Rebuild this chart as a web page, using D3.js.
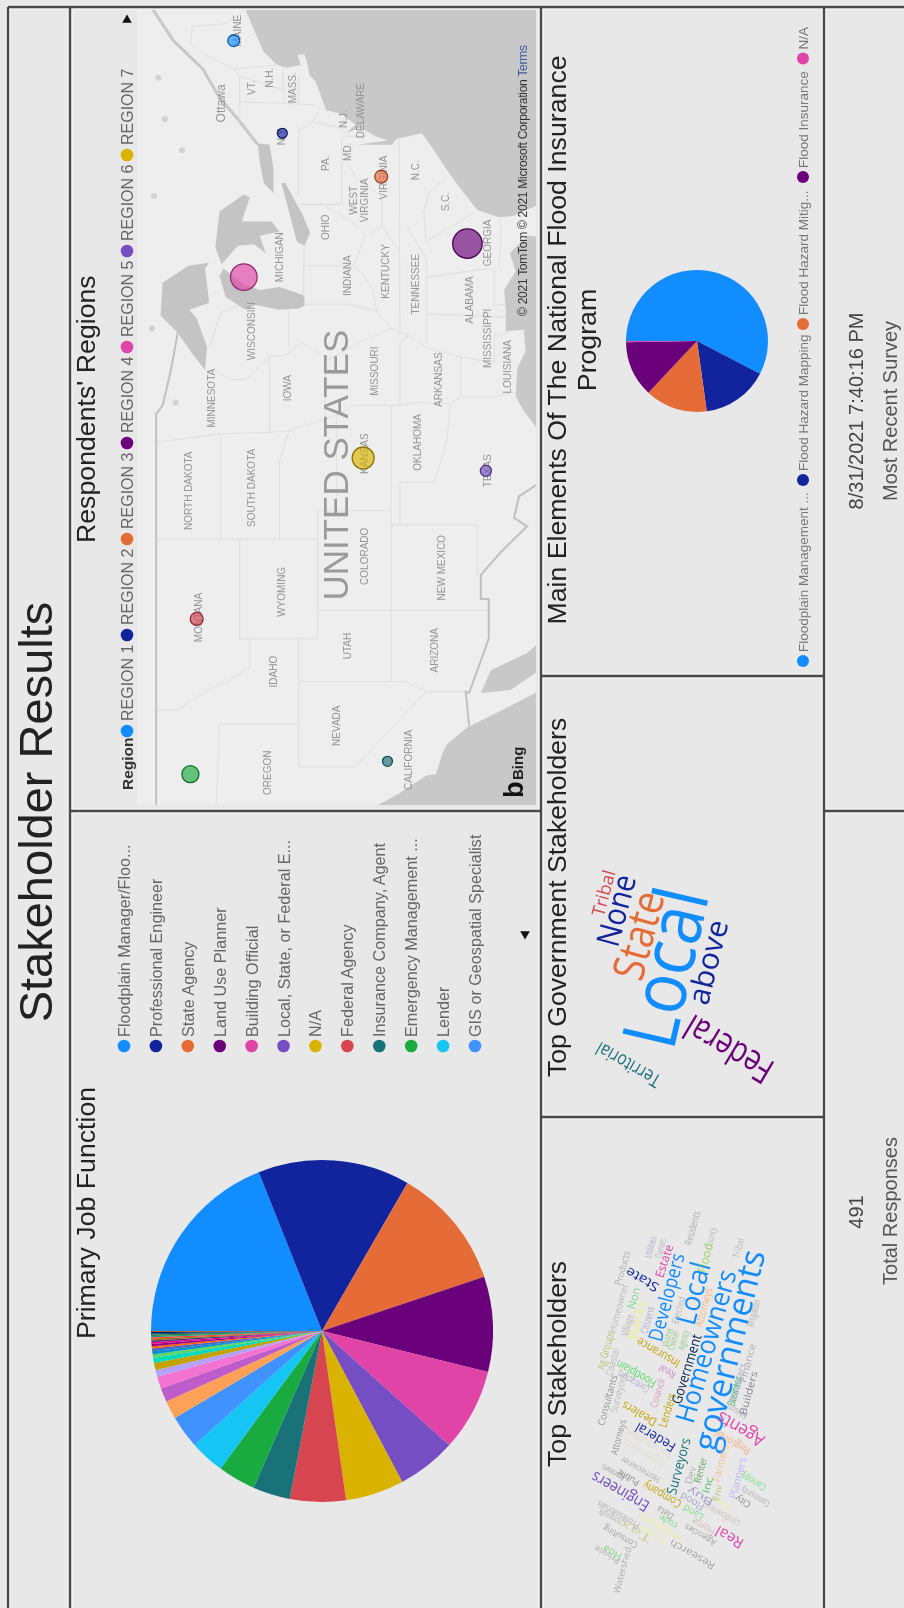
<!DOCTYPE html>
<html>
<head>
<meta charset="utf-8">
<script src="https://cdn.jsdelivr.net/npm/d3@7"></script>
<style>
  html, body { margin: 0; padding: 0; background: #e8e8e8; }
  svg { display: block; filter: blur(0.45px); }
  text { font-family: "Liberation Sans", Arial, sans-serif; }
  .cloud text { font-family: "Open Sans", sans-serif; }
</style>
</head>
<body>
<div id="chart"></div>
<script>
// The whole report is turned on its side, north of the map points left

// Primary job function
const jobNames = ["Floodplain Manager/Floo...", "Professional Engineer", "State Agency", "Land Use Planner",
    "Building Official", "Local, State, or Federal E...", "N/A", "Federal Agency",
    "Insurance Company, Agent", "Emergency Management ...", "Lender", "GIS or Geospatial Specialist"];
const jobShares = [18.97, 14.36, 11.53, 9.0, 7.8, 5.56, 5.53, 5.28, 3.53, 3.56, 3.28, 3.11,
    1.72, 1.31, 1.14, 0.64, 0.69, 0.47, 0.33,
    0.3, 0.25, 0.22, 0.2, 0.18, 0.16, 0.15, 0.14, 0.13, 0.13, 0.12, 0.11, 0.1];

// Main elements of the NFIP
const nfipNames = ["Floodplain Management ...", "Flood Hazard Mapping", "Flood Hazard Mitig...", "Flood Insurance", "N/A"];
const nfipShares = [57.6, 15.2, 14.2, 12.7, 0.3];

// Respondents' regions
const regionNames = ["REGION 1", "REGION 2", "REGION 3", "REGION 4", "REGION 5", "REGION 6", "REGION 7"];
const bubbleLon = [-69, -75.5, -78.55, -83.25, -85.6, -99.2, -98.3, -109.6, -119.6, -120.5];
const bubbleLat = [45.3, 42.85, 37.55, 32.6, 44.8, 31.5, 38.55, 47.1, 37.2, 47.4];
const bubbleCount = [23, 16, 27, 140, 115, 20, 78, 27, 16, 47];
const bubbleColor = [0, 1, 2, 3, 4, 5, 6, 7, 8, 9];

// Word clouds
const govWords = ["Local", "State", "None", "Tribal", "above", "Federal", "Territorial"];
const govWeights = [150, 88, 64, 36, 60, 72, 38];
const govColors = ["#118DFF", "#E66C37", "#12239E", "#D64550", "#12239E", "#6B007B", "#197278"];

const stakeWords = ["governments", "Homeowners", "Local", "Developers", "Estate", "State", "Agents", "Federal", "Engineers", "Real",
    "Surveyors", "Insurance", "Company", "Dealers", "Government", "Lenders", "Floodplain", "Business",
    "Residents", "County", "Tribal", "Utilities", "Owners", "Products", "Homeowner", "Village", "Non", "Banks", "Citizens",
    "Ag Groups", "Coastal", "Consultants", "Surveyors", "Contractors", "Council", "Real", "Elected", "Attorneys",
    "Water", "Owner", "Agency", "Mitigation", "Finance", "Producers", "Builders", "Advisors", "Flood",
    "Regional", "Farmers", "Planners", "Canopy", "Community", "City", "Town", "Landowners", "Home", "Buy", "Flood",
    "Renter", "Dev", "Inc", "Env", "Land", "Agencies", "Research", "Data", "code", "Insurers", "Private", "Tax",
    "Professionals", "nonprofit", "Consulting", "Hoa", "Private", "Watershed", "Appraisers", "Public", "Homeowner", "Attorneys",
    "Municipalities", "Organizations"];
const stakeWeights = [68, 54, 56, 40, 24, 26, 36, 28, 32, 30,
    28, 24, 24, 24, 28, 24, 24, 22,
    20, 20, 20, 20, 20, 20, 20, 20, 22, 24, 20,
    22, 20, 20, 20, 20, 20, 20, 20, 22,
    20, 20, 20, 20, 20, 20, 20, 18, 24,
    22, 22, 22, 20, 18, 18, 18, 20, 20, 20, 20,
    20, 20, 20, 18, 20, 18, 20, 18, 18, 22, 18, 22,
    18, 18, 18, 20, 18, 18, 18, 18, 18, 20,
    22, 22];

// Power BI theme, in slice order
const themeColors = ["#118DFF", "#12239E", "#E66C37", "#6B007B", "#E044A7", "#744EC2", "#D9B300", "#D64550",
    "#197278", "#1AAB40", "#15C6F4", "#4092FF", "#FFA058", "#BE5DC9", "#F472D0", "#B5A1FF",
    "#C4A200", "#00DBBC", "#5BD667", "#0091D5", "#4668C5", "#FF6300", "#99008A", "#EC008C",
    "#533285", "#99700A", "#FF4141", "#1F9A85", "#25891C", "#0057A2", "#002050", "#C94F0F"];

// Water and borders as lon/lat
const atlanticGulf = [[-55, 44.7], [-66.9, 44.7], [-68.2, 44.3], [-69.8, 43.8], [-70.7, 43.1], [-70.9, 42.6], [-70.7, 41.9],
    [-70, 42.05], [-69.95, 41.7], [-70.6, 41.55], [-71.4, 41.45], [-71.9, 41.1], [-73.9, 40.55], [-74.1, 39.8], [-74.9, 38.95],
    [-75.5, 39.5], [-75.1, 38.7], [-75.7, 37.9], [-76, 37.2], [-76.3, 38.9], [-76.3, 36.95], [-75.9, 36.7], [-75.5, 35.25],
    [-76.6, 34.6], [-77.9, 33.9], [-79.1, 33.2], [-80.9, 32], [-81.4, 30.7], [-81.3, 29.8], [-80.6, 28.5], [-80, 26.8],
    [-80.2, 25.5], [-81, 25.1], [-81.8, 26.1], [-82.8, 27.9], [-82.7, 29], [-83.9, 30.05], [-85.2, 29.7], [-86.5, 30.4],
    [-88, 30.3], [-89.4, 30.3], [-89.3, 29.2], [-90.8, 29.1], [-92, 29.6], [-94, 29.7], [-95, 29.2], [-97.1, 27.8],
    [-97.4, 26], [-97.8, 22], [-100, 20], [-55, 20]];
const pacific = [[-130, 38], [-122.8, 38], [-122.5, 37.5], [-121.9, 36.6], [-120.6, 35], [-120.5, 34.45], [-119, 34.05],
    [-118.4, 33.8], [-117.2, 32.6], [-116, 30.5], [-114.5, 28], [-112, 26], [-130, 26]];
const gulfOfCalifornia = [[-114.8, 31.8], [-114.6, 30], [-113, 28], [-111, 26], [-110, 27], [-112, 29], [-113.2, 31.2]];
const lakes = [
    [[-92.1, 46.7], [-90.5, 46.6], [-88.5, 47.1], [-87.9, 47.45], [-87.4, 46.5], [-85, 46.7], [-84.6, 46.5], [-84.8, 47.5], [-86, 48.7], [-88.3, 48.8], [-89.5, 48], [-91, 47.3]],
    [[-87.6, 41.7], [-86.9, 41.7], [-86.3, 43], [-86.5, 44], [-86.1, 44.8], [-85, 45.8], [-85.5, 46], [-87, 45.7], [-87.9, 44.7], [-87.5, 44.4], [-87.9, 43], [-87.8, 42]],
    [[-84.7, 45.9], [-83.4, 45.1], [-83.3, 44.3], [-83.9, 43.7], [-82.7, 44], [-82.4, 43], [-81.7, 43.4], [-81.7, 44.9], [-80, 44.5], [-79.8, 44.8], [-81, 46], [-83.5, 46.2]],
    [[-83.4, 41.7], [-82.5, 41.4], [-81.2, 41.8], [-79, 42.7], [-79, 42.9], [-80.5, 42.6], [-83.1, 42.1]],
    [[-79.7, 43.3], [-78, 43.3], [-76.3, 43.5], [-76.2, 44.1], [-77.5, 44], [-79, 43.8]]
];
const stLawrence = [[-76.3, 44.1], [-74.5, 45.1], [-73, 46], [-71, 46.8], [-69, 48.2], [-66, 49.5]];
const pondLon = [-71.6, -74.5, -76.7, -79.9, -89.2, -94.4];
const pondLat = [48.9, 48.6, 47.8, 49.1, 49.2, 48.1];
const nationalBorders = [
    [[-125, 49], [-95.2, 49], [-94.6, 48.7], [-92, 48.3], [-89.5, 48]],
    [[-117.1, 32.5], [-114.7, 32.7], [-114.8, 32.5], [-111, 31.33], [-108.2, 31.33], [-108.2, 31.8], [-106.5, 31.8], [-104.9, 30.6], [-103.1, 29], [-102.5, 29.8], [-101, 29.5], [-99.5, 27.5], [-97.2, 25.9]]
];
const stateBorders = [
    [[-116, 49], [-116, 48], [-114.6, 46.6], [-114, 45.6], [-113, 44.5], [-111, 44.5]],
    [[-111, 45], [-104, 45]], [[-111, 45], [-111, 41], [-104, 41]], [[-104, 49], [-104, 41]],
    [[-109, 41], [-102, 41], [-102, 37]], [[-114, 42], [-111, 42]], [[-109, 41], [-109, 31.3]], [[-114, 37], [-102, 37]],
    [[-120, 42], [-114, 42], [-114, 36.2], [-114.7, 35], [-120, 39], [-120, 42]], [[-117, 42], [-117, 46], [-124, 46.2]],
    [[-114.7, 35], [-114.7, 32.7]], [[-103, 37], [-103, 32], [-106.6, 32]],
    [[-104, 45.94], [-96.6, 45.94]], [[-97.2, 49], [-96.6, 45.9], [-96.5, 43.5], [-96.4, 42.5]],
    [[-104, 43], [-98.5, 43], [-96.4, 42.5], [-95.3, 40]], [[-102, 40], [-95.3, 40], [-94.6, 39], [-94.6, 36.5], [-94.4, 35.4], [-94.5, 33.6], [-94, 33], [-94, 31], [-93.7, 29.7]],
    [[-102, 37], [-94.6, 37]], [[-103, 36.5], [-100, 36.5], [-100, 34.5], [-97, 33.8], [-94.5, 33.6]],
    [[-96.5, 43.5], [-91.2, 43.5]], [[-95.8, 40.6], [-91.5, 40.6]], [[-94.6, 36.5], [-90.2, 36.5], [-89.7, 36]], [[-94, 33], [-91.2, 33]],
    [[-92.1, 46.7], [-92.3, 46.1], [-92.8, 45.5], [-92.8, 44.7], [-91.2, 43.5], [-91.1, 42.7], [-90.2, 41.8], [-91.4, 40.4], [-90.2, 38.8], [-89.2, 37], [-89.7, 36], [-90.6, 34.9], [-91.2, 33], [-91.6, 31], [-89.7, 31], [-89.5, 30.2]],
    [[-90.6, 42.5], [-87.8, 42.5]], [[-90.4, 46.5], [-88.1, 45.9], [-87.6, 45.1]], [[-87.5, 41.7], [-87.5, 39.3], [-88, 37.8]],
    [[-84.8, 41.7], [-84.8, 39.1]], [[-89.2, 37], [-88, 37.8], [-86.5, 38], [-85.5, 38.5], [-84.8, 39.1], [-82.6, 38.4], [-81.7, 39.2], [-80.6, 40.6]],
    [[-87, 41.75], [-83.4, 41.72]], [[-80.5, 42], [-80.5, 39.72], [-75.8, 39.72]], [[-79.8, 42.2], [-79.8, 42], [-75.3, 42]],
    [[-82.6, 38.2], [-82, 37.5], [-80, 37.5], [-78.5, 39], [-77.8, 39.3]], [[-83.7, 36.6], [-82, 37.5]], [[-89.7, 36.5], [-75.9, 36.55]],
    [[-90.3, 35], [-84.3, 35], [-82, 36.1]], [[-83.1, 35], [-81, 35.15], [-79.7, 34.8], [-78.6, 33.9]], [[-83.1, 35], [-81, 32.1]],
    [[-85.6, 35], [-85.1, 32], [-85, 31]], [[-85, 30.7], [-82.2, 30.6], [-81.5, 30.7]], [[-87.5, 30.3], [-87.6, 31], [-85, 31]], [[-88.2, 35], [-88.4, 30.3]],
    [[-73.3, 45], [-73.4, 42.7], [-73.5, 41.2]], [[-74.7, 45], [-71.5, 45], [-71, 45.3], [-70, 46.7], [-69.2, 47.4], [-68, 47.3], [-67.8, 45.7], [-67, 44.9]],
    [[-71.5, 45], [-72.5, 42.7]], [[-73.3, 42.75], [-70.8, 42.85]], [[-73.5, 42.05], [-71.4, 42]], [[-71, 45.3], [-70.7, 43.1]],
    [[-75.3, 42], [-74.7, 41.3], [-74, 41]], [[-74.7, 41.3], [-75.1, 39.9], [-75.5, 39.5]], [[-75.7, 39.7], [-75.7, 38.4], [-75.1, 38.4]]
];

// Map labels
const placeNames = ["NORTH DAKOTA", "SOUTH DAKOTA", "MINNESOTA", "IOWA", "WISCONSIN", "MICHIGAN", "OHIO", "INDIANA", "KENTUCKY", "TENNESSEE",
    "ALABAMA", "MISSISSIPPI", "LOUISIANA", "ARKANSAS", "MISSOURI", "OKLAHOMA", "KANSAS", "TEXAS", "COLORADO", "NEW MEXICO",
    "ARIZONA", "UTAH", "WYOMING", "MONTANA", "IDAHO", "NEVADA", "OREGON", "CALIFORNIA", "GEORGIA", "S.C.",
    "N.C.", "VIRGINIA", "WEST", "VIRGINIA", "PA.", "MD.", "DELAWARE", "N.J.", "N.Y.", "MASS.", "VT.", "N.H.", "MAINE", "Ottawa"];
const placeLon = [-100.6, -100.4, -94.1, -93.4, -89.4, -84.2, -82.1, -85.5, -85.2, -86.1,
    -87.2, -89.9, -91.9, -92.8, -92.2, -97.2, -98, -99.2, -105.2, -106,
    -111.8, -111.5, -107.7, -109.5, -113.3, -117.1, -120.4, -119.5, -83.2, -80.3,
    -78.1, -78.6, -80.2, -80.2, -77.6, -76.8, -73.9, -74.5, -75.7, -72.3, -72.3, -71.6, -68.3, -73.4];
const placeLat = [47.5, 44.4, 46.4, 42.6, 44.4, 43, 40.6, 39.4, 37.3, 35.6,
    32.5, 31.4, 30.2, 34.3, 37.9, 35.5, 38.5, 31.4, 38.5, 34.1,
    34.5, 39.4, 42.9, 47, 43.3, 40, 43.6, 36, 31.4, 33.9,
    35.6, 37.4, 39.1, 38.5, 40.6, 39.4, 38.7, 39.6, 42.9, 42.3, 44.4, 43.5, 45.1, 45.9];

// Cloud placement, in page pixels: x, y, rotation, drawn length, colour
const govPlace = [[663, 967, -77, 161], [637, 935, -75, 90], [615, 910, -75, 73], [603, 893, -75, 47], [707, 962, -76, 86], [728, 1050, -149, 97], [628, 1065, -150, 71]];
const stakePlace = [[728, 1350, -76, 206, "#118DFF"], [705, 1346, -74, 158, "#118DFF"], [692, 1293, -75, 64, "#118DFF"], [666, 1297, -75, 90, "#118DFF"], [664, 1261, -72, 34, "#E044A7"],
    [642, 1280, -150, 36, "#12239E"], [740, 1430, -150, 52, "#E044A7"], [655, 1438, -150, 44, "#12239E"], [620, 1492, -150, 64, "#744EC2"], [729, 1538, -150, 30, "#E044A7"],
    [678, 1466, -75, 58, "#197278"], [658, 1353, -150, 48, "#C4A200"], [662, 1495, -150, 42, "#C4A200"], [639, 1414, -150, 38, "#C4A200"], [686, 1369, -73, 72, "#002050"],
    [667, 1410, -73, 35, "#C4A200"], [636, 1374, -150, 44, "#5BD667"], [734, 1391, -75, 30, "#1AAB40"],
    [692, 1228, -75, 35, "#999"], [710, 1238, -75, 22, "#aaa"], [738, 1248, -75, 20, "#aaa"], [650, 1247, -75, 22, "#9a94c0"], [660, 1248, -75, 20, "#aaa"], [622, 1268, -75, 35, "#999"],
    [618, 1308, -75, 50, "#aaa"], [627, 1325, -75, 22, "#aaa"], [633, 1298, -75, 22, "#5BD667"], [637, 1320, -75, 40, "#F0EE90"], [647, 1320, -75, 28, "#9a94c0"],
    [605, 1350, -75, 40, "#A3B84E"], [612, 1362, -75, 28, "#aaa"], [607, 1400, -75, 52, "#777"], [618, 1393, -75, 40, "#aaa"], [633, 1382, -150, 35, "#9a94c0"], [657, 1393, -73, 30, "#C878B0"],
    [667, 1372, -150, 18, "#BE5DC9"], [678, 1310, -75, 28, "#aaa"], [703, 1307, -75, 40, "#FFA058"],
    [667, 1337, -75, 20, "#7BC36A"], [673, 1340, -75, 20, "#7BC36A"], [683, 1340, -75, 20, "#7BC36A"], [753, 1313, -75, 28, "#999"], [747, 1363, -75, 40, "#999"], [737, 1383, -75, 40, "#9a94c0"],
    [748, 1393, -75, 45, "#667"], [737, 1412, -150, 22, "#999"], [705, 1258, -75, 30, "#A5D46A"],
    [732, 1443, -150, 40, "#F8A070"], [720, 1463, -75, 38, "#FFB480"], [737, 1478, -75, 42, "#B5A1FF"], [753, 1482, -150, 28, "#5BD667"], [755, 1497, -150, 32, "#999"], [743, 1502, -150, 16, "#666"],
    [722, 1505, -150, 18, "#F0EE90"], [722, 1515, -150, 40, "#C8B0B0"], [703, 1527, -150, 25, "#C8B0B0"], [700, 1497, -150, 28, "#8a7ec0"], [692, 1502, -150, 26, "#9090c0"],
    [700, 1470, -75, 26, "#25891C"], [690, 1475, -75, 18, "#999"], [707, 1485, -75, 16, "#1AAB40"], [717, 1493, -75, 16, "#A3B84E"], [693, 1513, -150, 22, "#5BD667"], [700, 1535, -150, 35, "#888"],
    [692, 1555, -150, 50, "#888"], [665, 1513, -150, 18, "#888"], [668, 1522, -150, 20, "#5BD667"], [660, 1528, -150, 48, "#F0F090"], [653, 1535, -150, 28, "#F0F090"], [635, 1532, -150, 35, "#C8C880"],
    [618, 1515, -150, 48, "#999"], [610, 1517, -150, 25, "#999"], [620, 1537, -150, 38, "#888"], [612, 1553, -150, 20, "#5BD667"], [607, 1555, -150, 28, "#999"], [622, 1570, -75, 48, "#999"],
    [613, 1473, -150, 25, "#888"], [628, 1478, -150, 24, "#666"], [640, 1470, -150, 44, "#999"], [618, 1437, -75, 36, "#777"],
    [648, 1444, -150, 52, "#DDD8CC"], [643, 1454, -150, 48, "#DDD8CC"]];

const width = 904, height = 1608;
const svg = d3.select("#chart").append("svg").attr("width", width).attr("height", height);

svg.append("rect").attr("width", width).attr("height", height).attr("fill", "#e8e8e8");

// --- Helper: text reading bottom to top ---
function sideText(parent, x, y, str, size, color, anchor) {
    return parent.append("text")
        .attr("transform", `translate(${x},${y}) rotate(-90)`)
        .attr("text-anchor", anchor || "start")
        .attr("font-size", size)
        .attr("fill", color)
        .text(str);
}

sideText(svg, 52, 812, "Stakeholder Results", 47, "#222", "middle");
sideText(svg, 95, 1339, "Primary Job Function", 26.7, "#222");
sideText(svg, 95, 543, "Respondents' Regions", 26.7, "#222");
sideText(svg, 566, 1467, "Top Stakeholders", 26.7, "#222");
sideText(svg, 566, 1077, "Top Government Stakeholders", 26.6, "#222");
sideText(svg, 566, 340, "Main Elements Of The National Flood Insurance", 26.7, "#222", "middle");
sideText(svg, 596, 340, "Program", 26.7, "#222", "middle");
sideText(svg, 863, 411, "8/31/2021 7:40:16 PM", 20, "#444", "middle");
sideText(svg, 897, 411, "Most Recent Survey", 20, "#555", "middle");
sideText(svg, 863, 1212, "491", 20, "#444", "middle");
sideText(svg, 897, 1211, "Total Responses", 20, "#555", "middle");

// --- Pies ---
const pie = d3.pie().sort(null).value(d => d);

function drawPie(values, cx, cy, r) {
    const arc = d3.arc().innerRadius(0).outerRadius(r);
    svg.append("g")
        .attr("transform", `translate(${cx},${cy}) rotate(-90)`)
        .selectAll("path")
        .data(pie(values))
        .join("path")
        .attr("d", arc)
        .attr("fill", (d, i) => themeColors[i]);
}
drawPie(jobShares, 322, 1331, 171);
drawPie(nfipShares, 697, 341, 71);

// Job legend, one column per name
const jobLegendX = d3.scalePoint().domain(d3.range(jobNames.length)).range([124, 475]);
jobNames.forEach((name, i) => {
    svg.append("circle").attr("cx", jobLegendX(i)).attr("cy", 1046).attr("r", 6.3).attr("fill", themeColors[i]);
    sideText(svg, jobLegendX(i) + 6, 1037, name, 16.2, "#666");
});

// NFIP legend
const nfipLegendY = [661, 480, 324, 177, 58.5];
nfipNames.forEach((name, i) => {
    svg.append("circle").attr("cx", 803).attr("cy", nfipLegendY[i]).attr("r", 6).attr("fill", themeColors[i]);
    sideText(svg, 808, nfipLegendY[i] - 9, name, 13.5, "#777");
});

// --- Map ---
const projection = d3.geoMercator().scale(816).translate([2550, 959]);
const mapLine = d3.line().x(d => projection(d)[0]).y(d => projection(d)[1]);

const mapFrame = svg.append("g").attr("transform", "translate(0,1608) rotate(-90)");
mapFrame.append("clipPath").attr("id", "map-clip").append("rect")
    .attr("x", 803).attr("y", 137).attr("width", 795).attr("height", 399);
const map = mapFrame.append("g").attr("clip-path", "url(#map-clip)");

map.append("rect").attr("x", 803).attr("y", 137).attr("width", 795).attr("height", 399).attr("fill", "#eeeeee");

map.selectAll("path.water")
    .data([atlanticGulf, pacific, gulfOfCalifornia])
    .join("path")
    .attr("class", "water")
    .attr("d", d => mapLine(d) + "Z")
    .attr("fill", "#c8c8c8");

map.selectAll("path.lake")
    .data(lakes)
    .join("path")
    .attr("class", "lake")
    .attr("d", d => mapLine(d) + "Z")
    .attr("fill", "#c4c4c4");

map.selectAll("circle.pond")
    .data(pondLon)
    .join("circle")
    .attr("class", "pond")
    .attr("cx", (d, i) => projection([pondLon[i], pondLat[i]])[0])
    .attr("cy", (d, i) => projection([pondLon[i], pondLat[i]])[1])
    .attr("r", 3)
    .attr("fill", "#d2d2d2");

map.append("path").attr("d", mapLine(stLawrence)).attr("fill", "none").attr("stroke", "#c8c8c8").attr("stroke-width", 3);

map.selectAll("path.state")
    .data(stateBorders)
    .join("path")
    .attr("class", "state")
    .attr("d", mapLine)
    .attr("fill", "none")
    .attr("stroke", "#dfdfdf")
    .attr("stroke-width", 1);

map.selectAll("path.nation")
    .data(nationalBorders)
    .join("path")
    .attr("class", "nation")
    .attr("d", mapLine)
    .attr("fill", "none")
    .attr("stroke", "#c0c0c0")
    .attr("stroke-width", 2);

map.selectAll("text.place")
    .data(placeNames)
    .join("text")
    .attr("class", "place")
    .attr("x", (d, i) => projection([placeLon[i], placeLat[i]])[0])
    .attr("y", (d, i) => projection([placeLon[i], placeLat[i]])[1] + 3.5)
    .attr("text-anchor", "middle")
    .attr("font-size", d => d === "Ottawa" ? 12 : 10)
    .attr("fill", "#959595")
    .text(d => d);

// Big country label
map.append("text")
    .attr("x", projection([-98.8, 40.1])[0])
    .attr("y", projection([-98.8, 40.1])[1] + 13)
    .attr("text-anchor", "middle")
    .attr("font-size", 35)
    .attr("font-family", "Lato, sans-serif")
    .attr("font-weight", 300)
    .attr("textLength", 271)
    .attr("lengthAdjust", "spacingAndGlyphs")
    .attr("fill", "#9a9a9a")
    .text("UNITED STATES");

const radius = d3.scaleSqrt().domain([0, d3.max(bubbleCount)]).range([0, 14.7]);
map.selectAll("circle.bubble")
    .data(bubbleCount)
    .join("circle")
    .attr("class", "bubble")
    .attr("cx", (d, i) => projection([bubbleLon[i], bubbleLat[i]])[0])
    .attr("cy", (d, i) => projection([bubbleLon[i], bubbleLat[i]])[1])
    .attr("r", d => radius(d))
    .attr("fill", (d, i) => themeColors[bubbleColor[i]])
    .attr("fill-opacity", 0.65)
    .attr("stroke", (d, i) => d3.color(themeColors[bubbleColor[i]]).darker(1.2))
    .attr("stroke-width", 1.3);

// Map legend
const legendX = 127;
sideText(svg, legendX + 6, 790, "Region", 15.5, "#333").attr("font-weight", "bold");
const regionLegendY = d3.scalePoint().domain(d3.range(regionNames.length)).range([731, 155]);
regionNames.forEach((name, i) => {
    svg.append("circle").attr("cx", legendX).attr("cy", regionLegendY(i)).attr("r", 6.3).attr("fill", themeColors[i]);
    sideText(svg, legendX + 6, regionLegendY(i) - 10, name, 16, "#666");
});

// Legend paging arrows
const triangle = d3.symbol().type(d3.symbolTriangle).size(40);
svg.append("path").attr("d", triangle()).attr("transform", "translate(127,20)").attr("fill", "#111");
svg.append("path").attr("d", triangle()).attr("transform", "translate(525,934) rotate(180)").attr("fill", "#111");

// Map credits
sideText(svg, 523, 798, "b", 27, "#111").attr("font-weight", "bold");
sideText(svg, 523, 780, "Bing", 15, "#222").attr("font-weight", "bold");
const credit = sideText(svg, 527, 316, "", 12, "#333").attr("textLength", 271);
credit.append("tspan").text("© 2021 TomTom  © 2021 Microsoft Corporation  ");
credit.append("tspan").attr("fill", "#3b5b9e").text("Terms");

// --- Word clouds ---
const wordSize = d3.scaleLinear().domain([0, 100]).range([0, 50]);

function drawCloud(words, weights, place, colorOf) {
    svg.append("g").attr("class", "cloud")
        .selectAll("text")
        .data(words)
        .join("text")
        .attr("transform", (d, i) => `translate(${place[i][0]},${place[i][1]}) rotate(${place[i][2]})`)
        .attr("text-anchor", "middle")
        .attr("dominant-baseline", "central")
        .attr("font-size", (d, i) => wordSize(weights[i]))
        .attr("textLength", (d, i) => place[i][3])
        .attr("lengthAdjust", "spacingAndGlyphs")
        .attr("fill", (d, i) => colorOf(i))
        .attr("opacity", (d, i) => weights[i] <= 22 ? 0.75 : 1)
        .text(d => d);
}
drawCloud(govWords, govWeights, govPlace, i => govColors[i]);
drawCloud(stakeWords, stakeWeights, stakePlace, i => stakePlace[i][4]);

// --- Report grid lines ---
const gridLines = [
    [[8, 7], [8, 1608]], [[70, 7], [70, 1608]], [[541, 7], [541, 1608]], [[824, 7], [824, 1608]],
    [[8, 7], [904, 7]], [[70, 811], [541, 811]], [[824, 811], [904, 811]], [[541, 676], [824, 676]], [[541, 1117], [824, 1117]]
];
const gridPath = d3.line();
svg.selectAll("path.halo")
    .data(gridLines)
    .join("path")
    .attr("class", "halo")
    .attr("d", gridPath)
    .attr("stroke", "#f2f2f2")
    .attr("stroke-width", 6);
svg.selectAll("path.grid")
    .data(gridLines)
    .join("path")
    .attr("class", "grid")
    .attr("d", gridPath)
    .attr("stroke", "#4a4a4a")
    .attr("stroke-width", 2.4);
</script>
</body>
</html>
